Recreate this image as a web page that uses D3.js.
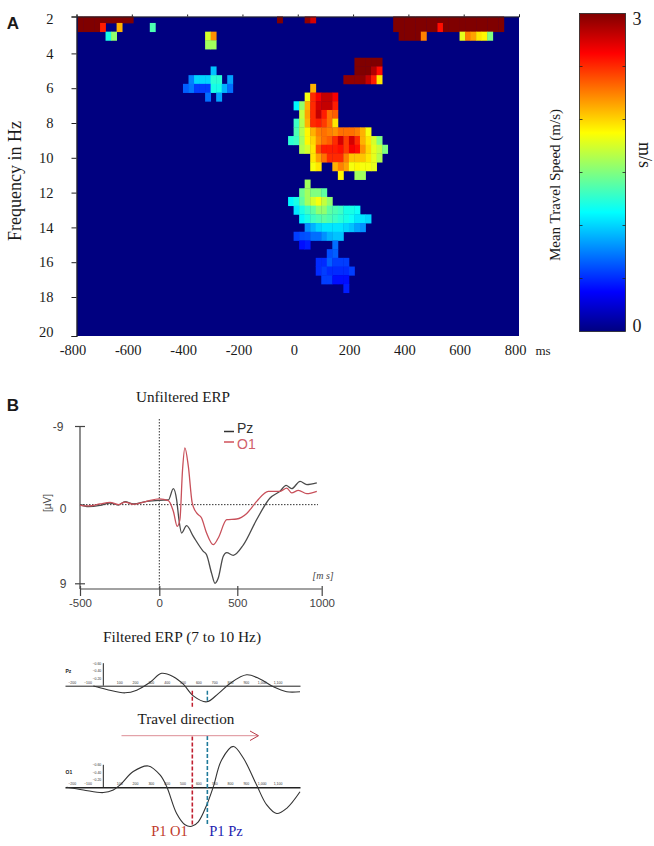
<!DOCTYPE html>
<html lang="en">
<head>
  <meta charset="UTF-8">
  <title>Travel speed and ERP</title>
  <script src="https://d3js.org/d3.v7.min.js"></script>
  <style>
    body { margin: 0; background: #fff; }
    svg { display: block; }
    text { font-family: "Liberation Serif", serif; fill: #1a1a1a; }
    .sans { font-family: "Liberation Sans", sans-serif; }
    .axis path, .axis line { stroke: #222; }
    .erp-axis path, .erp-axis line { stroke: #444; stroke-width: 1.2; }
    .erp-axis text { font-family: "Liberation Sans", sans-serif; font-size: 11.5px; fill: #444; }
    .tiny text { font-family: "Liberation Sans", sans-serif; font-size: 3.5px; fill: #333; }
  </style>
</head>
<body>
<svg width="654" height="846"></svg>
<script>
// === Panel A data ===
const timeTicks = [-800, -600, -400, -200, 0, 200, 400, 600, 800];
const freqTicks = [2, 4, 6, 8, 10, 12, 14, 16, 18, 20];
const speedTicks = [0, 0.5, 1, 1.5, 2, 2.5, 3];
// [frequency Hz, first bin ms, speeds m/s in consecutive 20 ms bins]
const speedRuns = [
  [2, -795, [3, 3, 3, 3, 3, 3, 3, 3, 3, 3]],
  [2, -75, [3]],
  [2, 25, [2.95, 2.75]],
  [2, 345, [3, 3, 3, 3, 3, 3, 3, 3, 3, 3, 3, 3, 3, 3, 3, 3, 3, 3, 3, 3]],
  [2.5, -795, [3, 3, 3, 3, 2.55]],
  [2.5, -655, [2.1]],
  [2.5, -535, [1.35]],
  [2.5, 345, [3, 3, 3, 3, 3, 3, 3, 3, 2.6, 3, 3, 3, 3, 3, 3, 3, 3, 3, 3, 3]],
  [3, -695, [1.2, 1.55]],
  [3, -335, [1.75, 2.2]],
  [3, 365, [3, 3, 3, 3, 2.25]],
  [3, 585, [1.8, 2.25, 2.15, 1.95, 1.9, 1.5]],
  [3.5, -335, [1.6, 1.6]],
  [4.5, 205, [3, 3, 3, 3, 3]],
  [5, -315, [0.95]],
  [5, 205, [3, 3, 3, 2.85, 2.6]],
  [5.5, -395, [0.75, 1, 1, 1, 1.25, 1.25]],
  [5.5, -255, [0.85]],
  [5.5, 165, [2.95, 2.95, 2.95, 2.95, 2.8, 2.55, 1.95]],
  [6, -415, [0.65, 0.72, 0.55, 0.55, 0.55, 1.2, 1.2, 0.9, 0.7]],
  [6, 45, [2.1]],
  [6.5, -335, [0.7]],
  [6.5, -295, [0.85]],
  [6.5, 25, [1.85, 2.5, 2.65, 2.8, 2.8, 2.65]],
  [7, -15, [1.1, 1.55, 2.1, 2.5, 2.75, 2.8, 2.8, 2.55]],
  [7.5, 5, [1.7, 2.15, 2.5, 2.8, 2.55, 2.3, 2.35]],
  [8, -15, [1.3, 1.65, 2.1, 2.5, 2.55, 2.45, 2.3, 1.95]],
  [8.5, -15, [1.35, 1.65, 1.9, 2.1, 2.25, 2.3, 2.25, 2.2, 2.3, 2.3, 2.3, 2.25, 2.1, 1.85]],
  [9, -35, [1.25, 1.3, 1.6, 1.9, 2, 2.2, 2.3, 2.35, 2.5, 2.75, 2.45, 2.75, 2.5, 2.1, 1.95, 1.75, 1.5]],
  [9.5, 5, [1.65, 1.75, 1.95, 2.4, 2.55, 2.55, 2.55, 2.6, 2.45, 2.65, 2.6, 2.2, 2, 1.8, 1.7, 1.5]],
  [10, 45, [1.95, 2.15, 2.3, 2.5, 2.5, 2.5, 2.25, 2.05, 2.05, 2.05, 1.95, 1.8, 1.65]],
  [10.5, 45, [1.85, 1.95]],
  [10.5, 125, [2.1, 2.25, 2.15, 1.85, 1.9, 1.85, 1.85, 1.8]],
  [11, 145, [1.9]],
  [11, 205, [1.6, 1.6]],
  [11.5, 25, [1.6]],
  [12, 5, [1.45, 1.6, 1.5, 1.5, 1.4]],
  [12.5, -35, [1.1, 1.2, 1.4, 1.6, 1.75, 1.85, 1.7, 1.55]],
  [13, -15, [1.05, 1.2, 1.3, 1.4, 1.55, 1.55, 1.4, 1.35, 1.3, 1.2, 1.2, 1.15]],
  [13.5, 5, [1.1, 1.2, 1.3, 1.35, 1.4, 1.35, 1.3, 1.25, 1.2, 1.15, 1.05, 1.05, 1]],
  [14, 25, [0.8, 0.9, 1, 1.05, 1.05, 1.05, 1.05, 1, 0.95, 0.85, 0.8]],
  [14.5, -15, [0.55, 0.6, 0.62, 0.7, 0.7, 0.8, 0.9, 0.95, 0.95]],
  [15, 5, [0.4, 0.45]],
  [15, 125, [0.7]],
  [15.5, 105, [0.6, 0.65]],
  [16, 65, [0.5, 0.5, 0.65, 0.55, 0.55, 0.55]],
  [16.5, 65, [0.5, 0.55, 0.5, 0.5, 0.5, 0.5, 0.55]],
  [17, 85, [0.55, 0.55, 0.4, 0.4, 0.4]],
  [17.5, 165, [0.45]]
];

// === Panel B data ===
const erpTimes = [-500, 0, 500, 1000];
const erpVolts = [-9, 0, 9];
const pzTimes = [-500, -447, -374, -311, -258, -216, -164, -80, 0, 58, 90, 111, 126, 143, 175, 218, 282, 303, 335, 357, 378, 410, 432, 474, 536, 615, 694, 753, 789, 822, 872, 912, 971];
const pzVolts = [0, 0.23, 0.08, -0.19, 0.04, -0.34, -0.08, -0.38, -0.5, -0.53, -1.83, -0.57, 1.72, 3.25, 2.4, 3.63, 5.34, 5.73, 7.84, 9, 8.4, 5.9, 5.5, 5.8, 4.6, 1.7, -0.76, -1.53, -2.2, -1.83, -2.67, -2.3, -2.5];
const o1Times = [-500, -447, -374, -311, -258, -216, -164, -80, 0, 58, 90, 115, 132, 149, 164, 186, 211, 239, 271, 303, 346, 378, 432, 496, 556, 615, 684, 753, 793, 822, 862, 912, 971];
const o1Volts = [0.08, 0.15, -0.08, -0.27, 0, -0.3, -0.04, -0.38, -0.65, -0.46, 0.76, 2.48, 1.72, -4, -6.5, -4.4, -0.2, 0.95, 1.53, 3.25, 4.58, 3.82, 1.72, 1.64, 1, -0.38, -1.53, -1.53, -1.9, -1.34, -1.64, -1.26, -1.53];

const filtTicks = [-200, -100, 100, 200, 300, 400, 500, 600, 700, 800, 900, 1000, 1100];
const filtVoltTicks = [-0.6, -0.4, -0.2];
const filtPzTimes = [-63, 21, 137, 211, 295, 368, 442, 505, 568, 653, 726, 800, 905, 989, 1074, 1158, 1242];
const filtPzVolts = [0.01, 0.1, 0.19, 0.12, -0.09, -0.33, -0.24, -0.04, 0.27, 0.43, 0.21, -0.06, -0.29, -0.18, 0.03, 0.16, 0.16];
const filtO1Times = [-232, -126, 0, 63, 105, 189, 284, 358, 400, 463, 516, 558, 600, 653, 695, 747, 821, 884, 968, 1032, 1095, 1158, 1242];
const filtO1Volts = [0, 0.07, 0.14, 0.07, -0.06, -0.42, -0.57, -0.33, -0.02, 0.7, 1, 1.04, 0.92, 0.47, -0.02, -0.73, -1.09, -0.78, -0.06, 0.47, 0.7, 0.56, 0.12];
const p1O1Time = 562;
const p1PzTime = 657;

const svg = d3.select("svg");

function label(str, x, y, size, opts = {}) {
  const t = svg.append("text")
    .attr("x", x).attr("y", y)
    .attr("font-size", size)
    .attr("text-anchor", opts.anchor || "middle")
    .attr("dominant-baseline", "middle")
    .text(str);
  if (opts.rotate) t.attr("transform", `rotate(${opts.rotate} ${x} ${y})`);
  if (opts.fill) t.style("fill", opts.fill);
  if (opts.weight) t.attr("font-weight", opts.weight);
  if (opts.cls) t.attr("class", opts.cls);
  return t;
}

// === Panel A: heatmap ===
const jet = d3.scaleLinear()
  .domain([0, 0.375, 1.125, 1.875, 2.625, 3])
  .range(["#000080", "#0000ff", "#00ffff", "#ffff00", "#ff0000", "#800000"]);

const x = d3.scaleLinear().domain([-800, 800]).range([76.5, 519]);
const y = d3.scaleLinear().domain([2, 20]).range([18.6, 331.8]);
// tick marks sit on the frame at both ends
const yTick = d3.scaleLinear().domain([2, 4, 18, 20]).range([16.5, 53.4, 297, 336]);
const plotTop = 16.5, plotBottom = 336;

svg.append("clipPath").attr("id", "plot-clip").append("rect")
  .attr("x", x(-800)).attr("y", plotTop)
  .attr("width", x(800) - x(-800)).attr("height", plotBottom - plotTop);

// the source is a soft raster, so the cells get a very slight blur
const soft = svg.append("filter").attr("id", "soft")
  .attr("x", "-5%").attr("y", "-5%").attr("width", "110%").attr("height", "110%");
soft.append("feGaussianBlur").attr("stdDeviation", 0.45);

const heat = svg.append("g").attr("clip-path", "url(#plot-clip)");
heat.append("rect")
  .attr("x", x(-800)).attr("y", plotTop)
  .attr("width", x(800) - x(-800)).attr("height", plotBottom - plotTop)
  .attr("fill", jet(0));

const cells = speedRuns.flatMap(([freq, start, speeds]) =>
  speeds.map((speed, i) => ({ freq, ms: start + i * 20, speed })));

const cellW = x(20) - x(0);
const cellH = y(2.5) - y(2);
heat.append("g").attr("filter", "url(#soft)")
  .selectAll("rect")
  .data(cells)
  .join("rect")
  .attr("x", d => x(d.ms))
  .attr("y", d => y(d.freq) - cellH / 2)
  .attr("width", cellW + 0.4)
  .attr("height", cellH + 0.4)
  .attr("fill", d => jet(d.speed));

// frame and ticks
svg.append("g").attr("class", "axis")
  .attr("transform", `translate(${x(-800)},0)`)
  .call(d3.axisLeft(yTick).tickValues(freqTicks).tickSize(5).tickFormat(""))
  .call(g => g.select(".domain").attr("stroke-width", 1.2));
svg.append("g").attr("class", "axis")
  .attr("transform", `translate(0,${plotTop})`)
  .call(d3.axisTop(x).tickValues(timeTicks).tickSize(2).tickFormat(""));

svg.append("g")
  .attr("transform", `translate(${x(-800)},0)`)
  .call(d3.axisLeft(y).tickValues(freqTicks).tickSize(0).tickPadding(23))
  .call(g => g.select(".domain").remove())
  .call(g => g.selectAll("text").attr("font-size", 14.5));
svg.append("g")
  .attr("transform", `translate(-4,${plotBottom})`)
  .call(d3.axisBottom(x).tickValues(timeTicks).tickSize(0).tickPadding(9).tickFormat(String))
  .call(g => g.select(".domain").remove())
  .call(g => g.selectAll("text").attr("font-size", 14.5));

label("ms", 543, 352, 13);
label("Frequency in Hz", 17, 181, 18, { rotate: -90 });
label("A", 13, 25, 17, { cls: "sans", weight: "bold" });

// === Colour bar ===
const barX = 579.5, barW = 46;
const barY = d3.scaleLinear().domain([0, 3]).range([331.5, 13.5]);
const grad = svg.append("linearGradient").attr("id", "jet-bar")
  .attr("x1", 0).attr("x2", 0).attr("y1", 1).attr("y2", 0);
jet.domain().forEach(v => {
  grad.append("stop").attr("offset", v / 3).attr("stop-color", jet(v));
});
svg.append("rect")
  .attr("x", barX).attr("y", barY(3))
  .attr("width", barW).attr("height", barY(0) - barY(3))
  .attr("fill", "url(#jet-bar)").attr("stroke", "#222").attr("stroke-width", 0.8);
svg.selectAll("line.bar-tick")
  .data(speedTicks.slice(1, -1).flatMap(v => [[v, barX, 3], [v, barX + barW, -3]]))
  .join("line")
  .attr("class", "bar-tick")
  .attr("x1", d => d[1]).attr("x2", d => d[1] + d[2])
  .attr("y1", d => barY(d[0])).attr("y2", d => barY(d[0]))
  .attr("stroke", "#222").attr("stroke-width", 0.8);

label("3", 637, 21, 18);
label("0", 637, 328, 18);
label("m/s", 643, 155, 18, { rotate: 90 });
label("Mean Travel  Speed (m/s)", 557, 185, 15, { rotate: -90 });

// === Panel B: unfiltered ERP ===
const ex = d3.scaleLinear().domain(erpTimes).range([80, 159.3, 237.3, 321.7]);
const ey = d3.scaleLinear().domain([-9, 9]).range([426, 583.3]);
const erpBottom = 589;

label("B", 13, 407, 17, { cls: "sans", weight: "bold" });
label("Unfiltered ERP", 183, 399, 15.2);

svg.append("line")
  .attr("x1", ex(-500)).attr("x2", 318).attr("y1", ey(0)).attr("y2", ey(0))
  .attr("stroke", "#333").attr("stroke-dasharray", "1.5 1.5");
svg.append("line")
  .attr("x1", ex(0)).attr("x2", ex(0)).attr("y1", 419).attr("y2", erpBottom)
  .attr("stroke", "#333").attr("stroke-dasharray", "1.5 1.5");

svg.append("g").attr("class", "erp-axis")
  .attr("transform", `translate(${ex(-500)},0)`)
  .call(d3.axisLeft(ey).tickValues(erpVolts).tickSize(5).tickFormat(""))
  .call(g => g.select(".domain").attr("d", `M0,426V${erpBottom}`))
  .call(g => g.selectAll(".tick line").attr("x1", 5).attr("x2", d => d === 0 ? 0 : -5));

svg.append("g").attr("class", "erp-axis")
  .attr("transform", `translate(0,${erpBottom})`)
  .call(d3.axisBottom(ex).tickValues(erpTimes).tickSize(7).tickPadding(3).tickFormat(String))
  .call(g => g.select(".domain").attr("d", `M${ex(-500)},0H${ex(1000)}`))
  .call(g => g.selectAll(".tick line").attr("y1", -3));

label("-9", 58, 428, 12, { cls: "sans", fill: "#444" });
label("0", 63, 510, 12, { cls: "sans", fill: "#444" });
label("9", 63, 585, 12, { cls: "sans", fill: "#444" });
label("[µV]", 48, 503, 10, { cls: "sans", rotate: -90, fill: "#444" });
label("[m s]", 323, 577, 10, { fill: "#444" }).attr("font-style", "italic");

const erpLine = d3.line().x(d => ex(d[0])).y(d => ey(d[1])).curve(d3.curveMonotoneX);
svg.append("path")
  .attr("d", erpLine(d3.zip(pzTimes, pzVolts)))
  .attr("fill", "none").attr("stroke", "#4a4a4a").attr("stroke-width", 1.3);
svg.append("path")
  .attr("d", erpLine(d3.zip(o1Times, o1Volts)))
  .attr("fill", "none").attr("stroke", "#c8505a").attr("stroke-width", 1.3);

// legend
svg.append("line").attr("x1", 224).attr("x2", 234).attr("y1", 431.5).attr("y2", 431.5)
  .attr("stroke", "#333").attr("stroke-width", 1.5);
svg.append("line").attr("x1", 224).attr("x2", 234).attr("y1", 442).attr("y2", 442)
  .attr("stroke", "#d0505a").attr("stroke-width", 1.5);
label("Pz", 237, 429, 14, { cls: "sans", anchor: "start", fill: "#333" });
label("O1", 237, 445, 14, { cls: "sans", anchor: "start", fill: "#d0606a" });

// === Panel B: filtered ERP ===
const fx = d3.scaleLinear().domain([-242, 1242]).range([65, 300]);
const fyPz = d3.scaleLinear().domain([-0.6, 0]).range([663.2, 685.7]);
const fyO1 = d3.scaleLinear().domain([-0.6, 0]).range([764.8, 787.3]);
const fLine = fy => d3.line().x(d => fx(d[0])).y(d => fy(d[1])).curve(d3.curveCatmullRom);

label("Filtered ERP (7 to 10 Hz)", 182, 638, 15.4);
label("Travel direction", 186, 721, 15.2);

function filteredTrace(fy, times, volts, name, lineW) {
  const g = svg.append("g");
  g.append("g").attr("class", "tiny")
    .attr("transform", `translate(0,${fy(0)})`)
    .call(d3.axisTop(fx).tickValues(filtTicks).tickSize(0).tickPadding(2))
    .call(g => g.select(".domain").attr("stroke", "#222").attr("stroke-width", lineW));
  g.append("g").attr("class", "tiny")
    .attr("transform", `translate(${fx(0)},0)`)
    .call(d3.axisLeft(fy).tickValues(filtVoltTicks).tickSize(0).tickPadding(2))
    .call(g => g.select(".domain").attr("d", `M0,${fy(-0.6)}V${fy(0)}`).attr("stroke", "#222").attr("stroke-width", 1));
  g.append("path")
    .attr("d", fLine(fy)(d3.zip(times, volts)))
    .attr("fill", "none").attr("stroke", "#333").attr("stroke-width", 1.1);
  g.append("text").attr("x", 65.5).attr("y", fy(0) - 13)
    .attr("font-size", 5).attr("font-weight", "bold").attr("class", "sans").text(name);
}
filteredTrace(fyPz, filtPzTimes, filtPzVolts, "Pz", 1);
filteredTrace(fyO1, filtO1Times, filtO1Volts, "O1", 1.6);

// P1 markers: dashed lines at each peak latency
function marker(t, y1, y2, color, w) {
  svg.append("line")
    .attr("x1", fx(t)).attr("x2", fx(t)).attr("y1", y1).attr("y2", y2)
    .attr("stroke", color).attr("stroke-width", w).attr("stroke-dasharray", "4 2");
}
marker(p1O1Time, fyPz(0) + 5, fyPz(0) + 21, "#c02030", 1.5);
marker(p1PzTime, fyPz(0) + 5, fyPz(0) + 17, "#1f7a9a", 1.5);
marker(p1O1Time, 736.5, 826, "#c02030", 1.6);
marker(p1PzTime, 736, 825, "#1f7a9a", 1.6);

// travel arrow
svg.append("line").attr("x1", 121.5).attr("x2", 258).attr("y1", 735.7).attr("y2", 735.7)
  .attr("stroke", "#d9808a").attr("stroke-width", 0.9);
svg.append("path").attr("d", "M250,731 L258.5,735.7 L250,740.5")
  .attr("fill", "none").attr("stroke", "#b83a48").attr("stroke-width", 1);

label("P1 O1", 169.5, 833, 14.5, { fill: "#c0392b" });
label("P1 Pz", 226, 833, 14.5, { fill: "#2222b0" });
</script>
</body>
</html>
